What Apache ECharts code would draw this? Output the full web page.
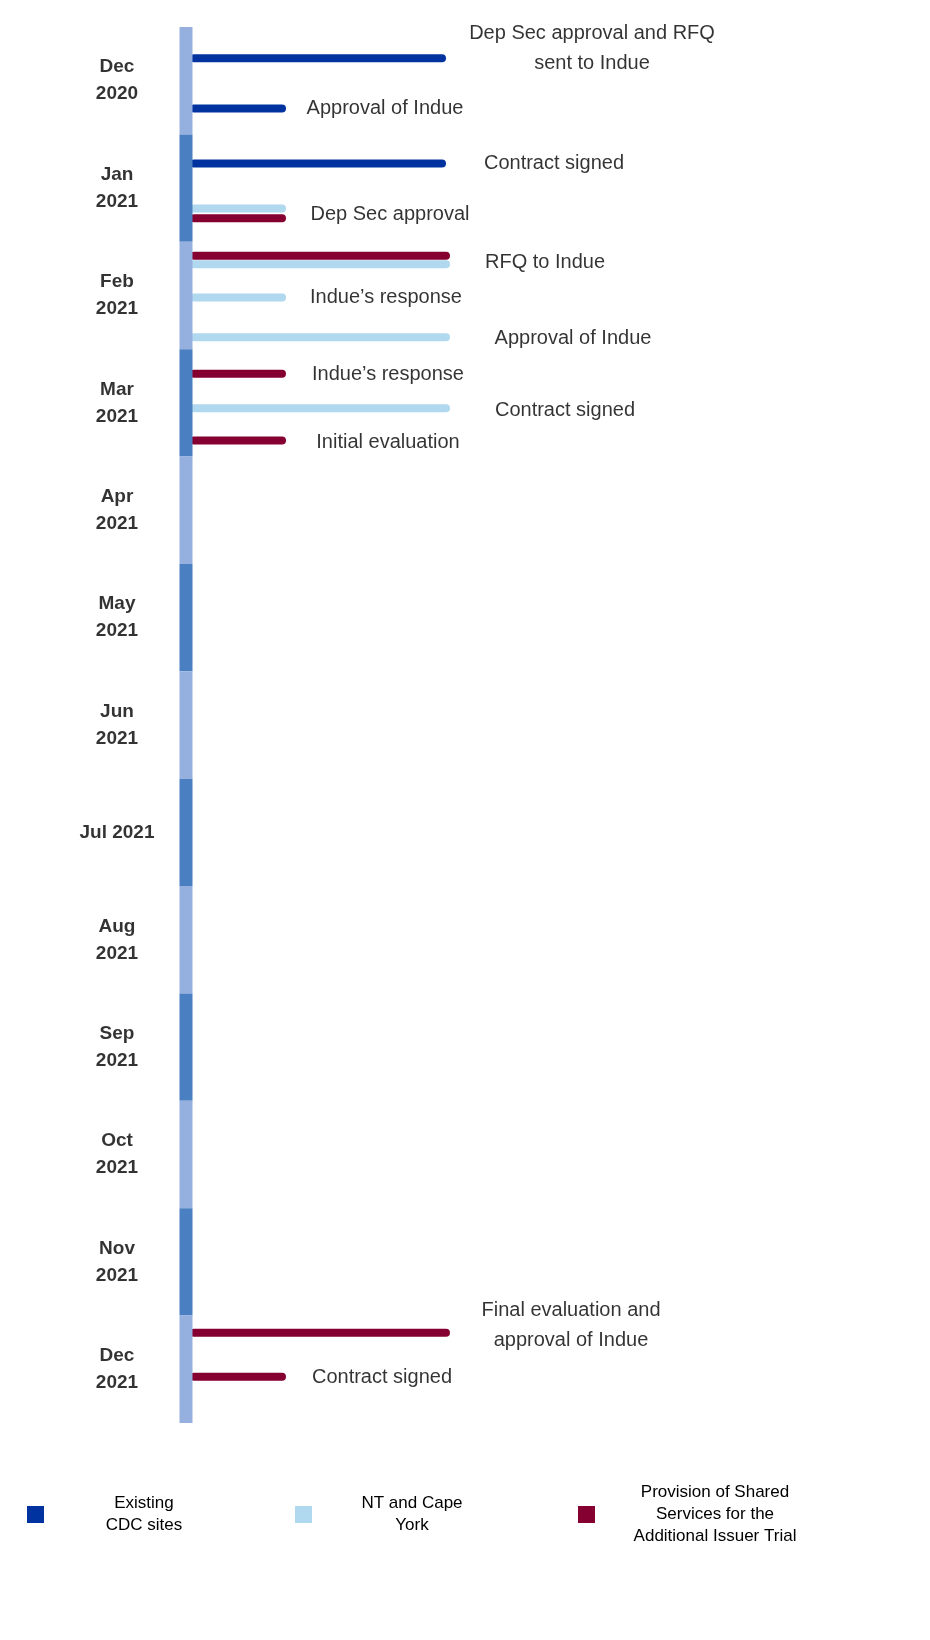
<!DOCTYPE html>
<html><head><meta charset="utf-8">
<script src="https://cdn.jsdelivr.net/npm/echarts@6/dist/echarts.min.js"></script>
<style>html,body{margin:0;background:#fff}#main{width:930px;height:1640px}</style>
</head><body><div id="main"></div>
<script>
// months on the timeline (y = index .. index+1)
var months = ['Dec\n2020','Jan\n2021','Feb\n2021','Mar\n2021','Apr\n2021','May\n2021','Jun\n2021',
  'Jul 2021','Aug\n2021','Sep\n2021','Oct\n2021','Nov\n2021','Dec\n2021'];
var groups = ['Existing\nCDC sites','NT and Cape\nYork','Provision of Shared\nServices for the\nAdditional Issuer Trial'];
var groupColors = ['#0033A0','#B0D8EE','#850030'];
// events: group, y position (months), bar end
var evGroup = [0,0,0,1,2,2,1,1,1,2,1,2,2,2];
var evY     = [0.29,0.76,1.27,1.69,1.78,2.13,2.21,2.52,2.89,3.23,3.55,3.85,12.16,12.57];
var evEnd   = [64,24,64,24,24,65,65,24,65,24,65,24,65,24];
// labels: text, x, y
var labText = ['Dep Sec approval and RFQ\nsent to Indue','Approval of Indue','Contract signed','Dep Sec approval',
  'RFQ to Indue','Indue’s response','Approval of Indue','Indue’s response','Contract signed','Initial evaluation',
  'Final evaluation and\napproval of Indue','Contract signed'];
var labX = [101.5,49.75,92,51,89.75,50,96.75,50.5,94.75,50.5,96.25,49];
var labY = [0.2,0.76,1.27,1.75,2.19,2.52,2.9,3.24,3.57,3.87,12.09,12.58];

var series = [];
for (var i = 0; i < months.length; i++) {
  series.push({type:'line', silent:true, symbol:'none', z:3,
    lineStyle:{width:13, cap:'butt', color: i % 2 == 0 ? '#95B0DF' : '#4A7FC1'},
    data:[[0,i],[0,i+1]]});
}
for (var j = 0; j < evY.length; j++) {
  series.push({type:'line', name:groups[evGroup[j]], symbol:'none', z:2,
    lineStyle:{width:8, cap:'round', color:groupColors[evGroup[j]]},
    itemStyle:{color:groupColors[evGroup[j]]},
    data:[[2,evY[j]],[evEnd[j],evY[j]]]});
}
series.push({type:'scatter', symbolSize:0, clip:false,
  label:{show:true, position:'inside', formatter:function(p){return labText[p.dataIndex];},
    fontFamily:'Liberation Sans', fontSize:20, color:'#000', lineHeight:30},
  data:labX.map(function(x,k){return [x,labY[k]];})});
series.push({type:'scatter', symbolSize:0, clip:false,
  label:{show:true, position:'inside', formatter:function(p){return months[p.dataIndex];},
    fontFamily:'Liberation Sans', fontSize:19, fontWeight:'bold', color:'#000', lineHeight:27},
  data:months.map(function(m,k){return [-17.25,k+0.5];})});

var legendLeft = [22, 290, 573];
var legendTop = [1490, 1490, 1479];
var legendW = [190, 190, 230];
var legends = groups.map(function(g,k){
  return {data:[g], left:legendLeft[k], top:legendTop[k], icon:'rect', itemWidth:17, itemHeight:17,
    selectedMode:false,
    formatter:function(n){ return n.split('\n').map(function(s){return '{c|'+s+'}';}).join('\n'); },
    textStyle:{color:'#000', rich:{c:{fontFamily:'Liberation Sans', fontSize:17, color:'#000',
      lineHeight:22, align:'center', width:legendW[k]}}}};
});

var myChart = echarts.init(document.getElementById('main'));
myChart.setOption({
  animation:false,
  legend:legends,
  grid:{left:26, width:760, top:27, height:1396},
  xAxis:{type:'value', min:-40, max:150, show:false},
  yAxis:{type:'value', min:0, max:13, inverse:true, show:false},
  series:series
});
</script></body></html>
